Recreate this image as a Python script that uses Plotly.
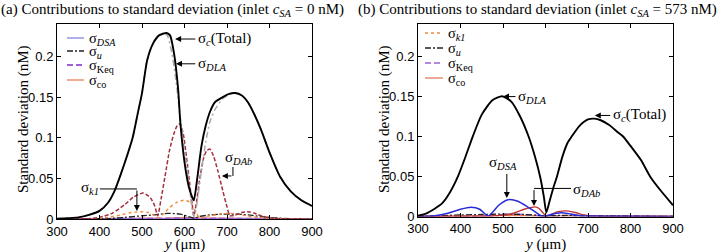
import plotly.graph_objects as go

# ---------------- data: panel (a) inlet c_SA = 0 nM ----------------
a_total_x = [300, 325, 350, 375, 400, 420, 435, 450, 465, 478, 490, 500, 512, 525, 540, 558, 566, 575, 585, 590, 600, 610, 618, 622, 630, 640, 650, 660, 672, 690, 705, 719, 735, 750, 765, 780, 800, 825, 850, 875, 900]
a_total_y = [0.0003, 0.001, 0.002, 0.005, 0.010, 0.020, 0.034, 0.055, 0.078, 0.100, 0.130, 0.155, 0.195, 0.215, 0.226, 0.229, 0.226, 0.205, 0.160, 0.120, 0.070, 0.040, 0.027, 0.023, 0.050, 0.090, 0.115, 0.132, 0.144, 0.150, 0.154, 0.155, 0.152, 0.143, 0.128, 0.110, 0.082, 0.052, 0.034, 0.023, 0.016]

a_dla_x = [300, 325, 350, 375, 400, 420, 435, 450, 465, 478, 490, 500, 512, 525, 540, 558, 570, 580, 590, 600, 610, 618, 622, 628, 640, 650, 660, 672, 690, 705, 719, 735, 750, 765, 780, 800, 825, 850, 875, 900]
a_dla_y = [0.0003, 0.001, 0.002, 0.005, 0.010, 0.020, 0.034, 0.055, 0.078, 0.100, 0.130, 0.155, 0.195, 0.215, 0.226, 0.227, 0.205, 0.170, 0.125, 0.085, 0.045, 0.012, 0.003, 0.015, 0.060, 0.095, 0.120, 0.135, 0.148, 0.153, 0.155, 0.152, 0.143, 0.128, 0.110, 0.082, 0.052, 0.034, 0.023, 0.016]

a_dab_x = [300, 380, 400, 430, 460, 480, 503, 520, 530, 537, 545, 555, 565, 575, 583, 589, 597, 605, 612, 618, 622, 628, 636, 645, 652, 660, 668, 678, 690, 700, 707, 720, 735, 749, 765, 785, 810, 840, 900]
a_dab_y = [0.0, 0.0005, 0.002, 0.007, 0.018, 0.027, 0.032, 0.026, 0.016, 0.004, 0.025, 0.055, 0.085, 0.105, 0.115, 0.117, 0.105, 0.075, 0.045, 0.018, 0.004, 0.020, 0.050, 0.075, 0.084, 0.086, 0.078, 0.060, 0.035, 0.015, 0.004, 0.005, 0.008, 0.009, 0.007, 0.003, 0.001, 0.0, 0.0]

a_k1_x = [300, 400, 420, 450, 475, 495, 515, 530, 538, 550, 565, 580, 598, 612, 620, 628, 636, 650, 670, 690, 707, 725, 745, 770, 800, 900]
a_k1_y = [0.0, 0.0005, 0.002, 0.005, 0.008, 0.009, 0.008, 0.004, 0.001, 0.006, 0.014, 0.020, 0.023, 0.021, 0.016, 0.007, 0.001, 0.003, 0.005, 0.0065, 0.007, 0.006, 0.004, 0.002, 0.0005, 0.0]

a_u_x = [300, 420, 460, 500, 530, 560, 590, 610, 622, 635, 660, 690, 720, 750, 780, 810, 850, 900]
a_u_y = [0.0, 0.0005, 0.002, 0.004, 0.005, 0.007, 0.006, 0.003, 0.001, 0.003, 0.005, 0.006, 0.006, 0.005, 0.003, 0.0015, 0.0005, 0.0]

a_keq_x = [300, 500, 600, 700, 900]
a_keq_y = [0.0, 0.0005, 0.001, 0.0005, 0.0]

a_dsa_x = [300, 500, 600, 700, 900]
a_dsa_y = [0.0, 0.0003, 0.0004, 0.0003, 0.0]

a_co_x = [300, 450, 500, 550, 600, 650, 700, 800, 900]
a_co_y = [0.0, 0.0005, 0.001, 0.0008, 0.002, 0.001, 0.001, 0.0003, 0.0]

# ---------------- data: panel (b) inlet c_SA = 573 nM ----------------
b_total_x = [300, 320, 340, 356, 375, 394, 410, 429, 450, 475, 498, 520, 540, 560, 575, 588, 596, 602, 610, 618, 627, 640, 652, 662, 680, 700, 715, 730, 750, 770, 782, 800, 825, 846, 870, 900]
b_total_y = [0.001, 0.004, 0.010, 0.016, 0.030, 0.050, 0.072, 0.100, 0.127, 0.145, 0.150, 0.143, 0.125, 0.100, 0.075, 0.048, 0.025, 0.005, 0.020, 0.035, 0.050, 0.075, 0.092, 0.100, 0.113, 0.121, 0.122, 0.120, 0.114, 0.105, 0.100, 0.088, 0.070, 0.050, 0.033, 0.014]

b_dsa_x = [300, 340, 370, 400, 425, 445, 458, 465, 475, 490, 512, 535, 555, 575, 590, 598, 610, 625, 643, 660, 680, 710, 750, 900]
b_dsa_y = [0.0, 0.001, 0.004, 0.009, 0.0115, 0.009, 0.003, 0.0005, 0.005, 0.014, 0.021, 0.019, 0.013, 0.006, 0.001, 0.0003, 0.002, 0.004, 0.0045, 0.003, 0.001, 0.0005, 0.0003, 0.0]

b_dab_x = [300, 450, 480, 510, 530, 550, 565, 575, 585, 595, 603, 615, 630, 650, 670, 690, 710, 750, 900]
b_dab_y = [0.0, 0.0005, 0.001, 0.002, 0.005, 0.009, 0.011, 0.012, 0.010, 0.004, 0.0005, 0.003, 0.006, 0.007, 0.005, 0.002, 0.0008, 0.0002, 0.0]

b_u_x = [300, 350, 400, 450, 500, 550, 600, 650, 700, 800, 900]
b_u_y = [0.0, 0.001, 0.002, 0.0025, 0.003, 0.0025, 0.001, 0.0015, 0.001, 0.0005, 0.0]

b_keq_x = [300, 450, 520, 560, 600, 650, 700, 900]
b_keq_y = [0.0, 0.0005, 0.003, 0.002, 0.0005, 0.001, 0.0005, 0.0]

b_k1_x = [300, 450, 550, 650, 750, 900]
b_k1_y = [0.0, 0.0005, 0.0008, 0.0005, 0.0003, 0.0]

b_co_x = [300, 450, 520, 600, 660, 750, 900]
b_co_y = [0.0, 0.0008, 0.0015, 0.0005, 0.001, 0.0003, 0.0]

x_ticks = [300, 400, 500, 600, 700, 800, 900]
y_ticks = [0, 0.05, 0.1, 0.15, 0.2]
y_ticktext = ["0", "0.05", "0.1", "0.15", "0.2"]

# ---------------- labels ----------------
L_DSA = "σ<sub><i>DSA</i></sub>"
L_U = "σ<sub><i>u</i></sub>"
L_KEQ = "σ<sub>Keq</sub>"
L_CO = "σ<sub>co</sub>"
L_K1 = "σ<sub><i>k1</i></sub>"
L_DLA = "σ<sub><i>DLA</i></sub>"
L_DAB = "σ<sub><i>DAb</i></sub>"
L_TOT = "σ<sub><i>c</i></sub>(Total)"

SERIF = "Liberation Serif, Times New Roman, serif"
SANS = "Liberation Sans, Arial, sans-serif"

# styles
ST = {
    "a_dsa": ("#8585dd", "solid", 1.3),
    "a_u": ("#222222", "6px,2px,2px,2px", 1.3),
    "a_keq": ("#9a5fd6", "6px,3px", 1.8),
    "a_co": ("#e8805a", "solid", 1.3),
    "a_k1": ("#f08a3c", "dot", 1.4),
    "a_dab": ("#a3303f", "4px,2px", 1.5),
    "a_dla": ("#aaaaaa", "6px,3px,2px,3px", 1.5),
    "tot": ("#000000", "solid", 1.9),
    "b_dsa": ("#2a2ad8", "solid", 1.5),
    "b_dab": ("#c03535", "solid", 1.4),
    "b_u": ("#222222", "6px,2px,2px,2px", 1.3),
    "b_keq": ("#9a5fd6", "6px,3px", 1.6),
    "b_k1": ("#f08a3c", "dot", 1.4),
    "b_co": ("#e07a5a", "solid", 1.3),
}

fig = go.Figure()

def add(x, y, name, key, axis):
    color, dash, width = ST[key]
    xa, ya = ("x", "y") if axis == 1 else ("x2", "y2")
    fig.add_trace(go.Scatter(
        x=x, y=y, mode="lines", name=name, xaxis=xa, yaxis=ya,
        line=dict(color=color, dash=dash, width=width, shape="spline", smoothing=0.6),
        showlegend=False, hoverinfo="skip"))

# panel (a)
add(a_co_x, a_co_y, L_CO, "a_co", 1)
add(a_dsa_x, a_dsa_y, L_DSA, "a_dsa", 1)
add(a_keq_x, a_keq_y, L_KEQ, "a_keq", 1)
add(a_u_x, a_u_y, L_U, "a_u", 1)
add(a_k1_x, a_k1_y, L_K1, "a_k1", 1)
add(a_dab_x, a_dab_y, L_DAB, "a_dab", 1)
add(a_dla_x, a_dla_y, L_DLA, "a_dla", 1)
add(a_total_x, a_total_y, L_TOT, "tot", 1)

# panel (b)
add(b_co_x, b_co_y, L_CO, "b_co", 2)
add(b_k1_x, b_k1_y, L_K1, "b_k1", 2)
add(b_keq_x, b_keq_y, L_KEQ, "b_keq", 2)
add(b_u_x, b_u_y, L_U, "b_u", 2)
add(b_dab_x, b_dab_y, L_DAB, "b_dab", 2)
add(b_dsa_x, b_dsa_y, L_DSA, "b_dsa", 2)
add(b_total_x, b_total_y, L_TOT, "tot", 2)

W, H = 722, 252
def px(xp):
    return xp / W
def py(yp):
    return 1 - yp / H

axis_common = dict(
    showline=True, linecolor="black", linewidth=1, mirror="ticks",
    ticks="inside", ticklen=4, tickcolor="black", showgrid=False, zeroline=False,
    tickfont=dict(family=SANS, size=13, color="black"), automargin=False)

fig.update_layout(
    width=W, height=H, margin=dict(l=0, r=0, t=0, b=0),
    paper_bgcolor="white", plot_bgcolor="white", showlegend=False,
    xaxis=dict(domain=[px(57), px(312)], range=[300, 900], anchor="y", tickvals=x_ticks, **axis_common),
    yaxis=dict(domain=[py(219), py(24)], range=[0, 0.24], anchor="x", tickvals=y_ticks, ticktext=y_ticktext, **axis_common),
    xaxis2=dict(domain=[px(418), px(673)], range=[300, 900], anchor="y2", tickvals=x_ticks, **axis_common),
    yaxis2=dict(domain=[py(216.5), py(24)], range=[0, 0.24], anchor="x2", tickvals=y_ticks, ticktext=y_ticktext, **axis_common),
)

ann = []
shapes = []
TF = dict(family=SERIF, size=15, color="black")

def ptext(xp, yp, text, anchor="left", size=15, angle=0):
    ann.append(dict(xref="paper", yref="paper", x=px(xp), y=py(yp), xanchor=anchor, yanchor="middle",
                    showarrow=False, text=text, textangle=angle, borderpad=0,
                    font=dict(family=SERIF, size=size, color="black")))

# titles
ptext(0, 10, "(a) Contributions to standard deviation (inlet <i>c</i><sub><i>SA</i></sub> = 0 nM)", size=15)
ptext(357, 10, "(b) Contributions to standard deviation (inlet <i>c</i><sub><i>SA</i></sub> = 573 nM)", size=15)
# axis titles
ptext(23, 120, "Standard deviation (nM)", anchor="center", angle=-90)
ptext(384, 120, "Standard deviation (nM)", anchor="center", angle=-90)
ptext(184, 244, "<i>y</i> (μm)", anchor="center")
ptext(545, 244, "<i>y</i> (μm)", anchor="center")

# legends (key line + text)
def legend_entry(x0, x1, yp, key, text):
    color, dash, width = ST[key]
    shapes.append(dict(type="line", xref="paper", yref="paper", x0=px(x0), x1=px(x1), y0=py(yp), y1=py(yp),
                       line=dict(color=color, dash=dash, width=width)))
    ptext(x1 + 4, yp + 1, text, size=14.5)

for yp, key, text in [(38, "a_dsa", L_DSA), (51, "a_u", L_U), (65, "a_keq", L_KEQ), (80, "a_co", L_CO)]:
    legend_entry(67, 84, yp, key, text)
for yp, key, text in [(33, "b_k1", L_K1), (48, "b_u", L_U), (63, "b_keq", L_KEQ), (78, "b_co", L_CO)]:
    legend_entry(425, 443, yp, key, text)

def arrow(xr, yr, hx, hy, tx, ty):
    ann.append(dict(xref=xr, yref=yr, axref=xr, ayref=yr, x=hx, y=hy, ax=tx, ay=ty, text="",
                    showarrow=True, arrowhead=2, arrowsize=1.2, arrowwidth=1, arrowcolor="black"))

def label(xr, yr, x, y, text, anchor="left"):
    ann.append(dict(xref=xr, yref=yr, x=x, y=y, text=text, showarrow=False, xanchor=anchor, yanchor="middle",
                    borderpad=0, font=TF))

def seg(xr, yr, x0, y0, x1, y1):
    shapes.append(dict(type="line", xref=xr, yref=yr, x0=x0, y0=y0, x1=x1, y1=y1,
                       line=dict(color="black", width=1)))

# panel (a) annotations
arrow("x", "y", 578, 0.2215, 629, 0.2215); label("x", "y", 630, 0.2215, L_TOT)
arrow("x", "y", 580, 0.191, 629, 0.191); label("x", "y", 630, 0.191, L_DLA)
seg("x", "y", 714, 0.064, 714, 0.053)
arrow("x", "y", 688, 0.053, 714, 0.053); label("x", "y", 693, 0.075, L_DAB)
seg("x", "y", 401, 0.037, 488, 0.037)
arrow("x", "y", 488, 0.010, 488, 0.037); label("x", "y", 400, 0.038, L_K1, anchor="right")

# panel (b) annotations
arrow("x2", "y2", 500, 0.1495, 533, 0.1495); label("x2", "y2", 534, 0.1495, L_DLA)
arrow("x2", "y2", 716, 0.126, 756, 0.126); label("x2", "y2", 757, 0.126, L_TOT)
arrow("x2", "y2", 509, 0.023, 509, 0.055); label("x2", "y2", 500, 0.067, L_DSA, anchor="center")
seg("x2", "y2", 660, 0.035, 573, 0.035)
arrow("x2", "y2", 573, 0.013, 573, 0.035); label("x2", "y2", 662, 0.033, L_DAB)

fig.update_layout(annotations=ann, shapes=shapes)
fig.write_html("out.html", config={"displayModeBar": False, "staticPlot": True},
               post_script="document.body.style.margin='0';document.body.style.padding='0';")
